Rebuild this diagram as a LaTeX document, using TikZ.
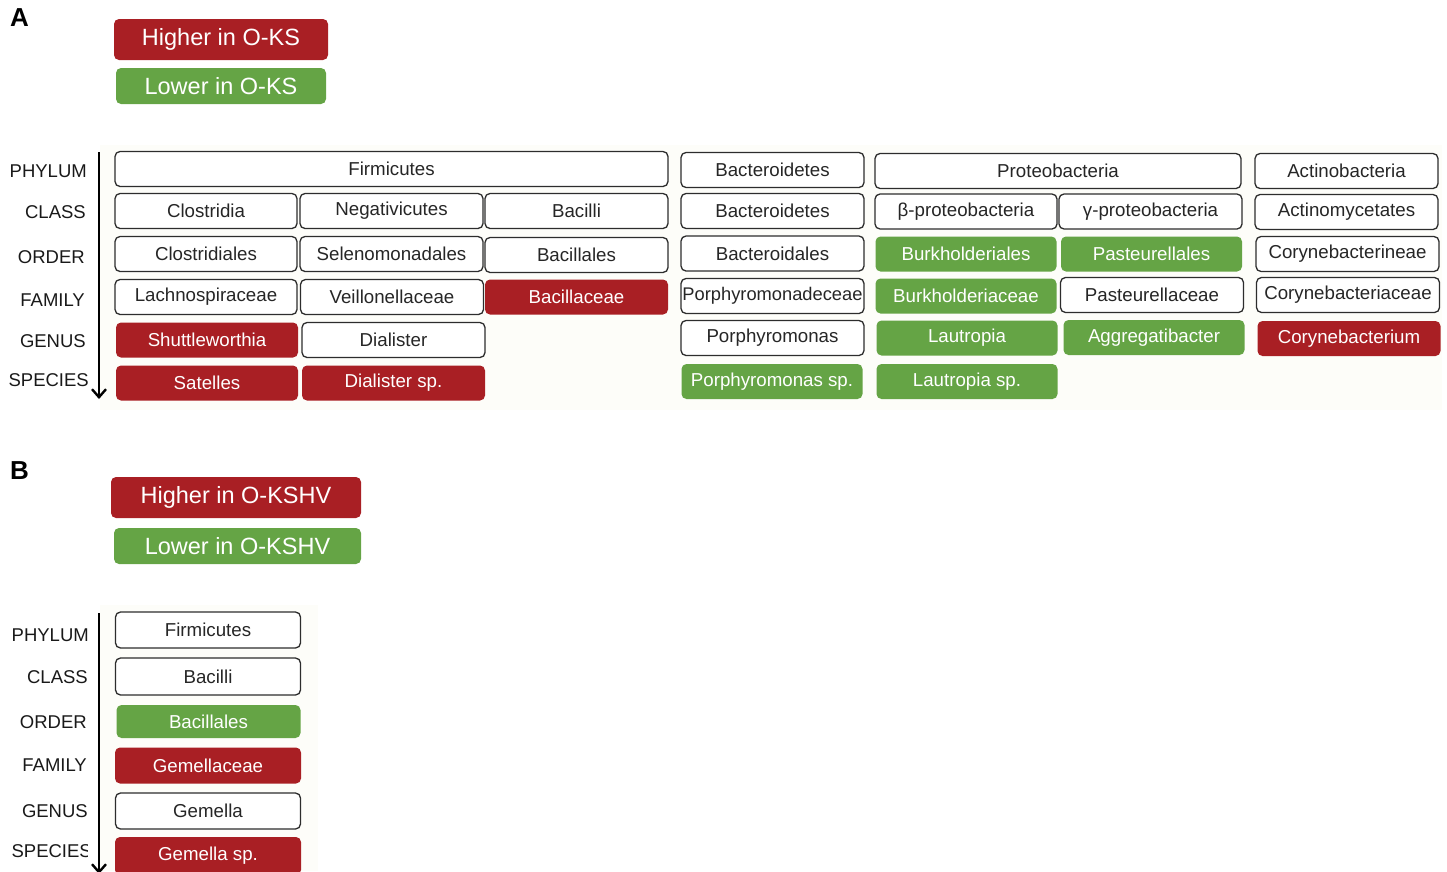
\documentclass[tikz,border=0pt]{standalone}
\usepackage{fontspec}
\setmainfont{Liberation Sans}
\usetikzlibrary{arrows.meta}
\definecolor{upred}{RGB}{169,31,36}
\definecolor{downgreen}{RGB}{101,164,69}
\definecolor{boxline}{RGB}{45,45,45}
\definecolor{panelbg}{RGB}{253,253,249}
\tikzset{taxon/.style={rectangle,rounded corners=5pt,minimum height=35pt,inner sep=0pt,font=\fontsize{18.7}{20}\selectfont}}

\begin{document}
\begin{tikzpicture}[x=1pt,y=-1pt,
    wbox/.style={taxon,draw=boxline,line width=1.3pt,fill=white,text=black!85},
    hbox/.style={taxon,fill=upred,text=white},
    lbox/.style={taxon,fill=downgreen,text=white},
    rank/.style={anchor=east,inner sep=0pt,text=black!90,font=\fontsize{18.5}{20}\selectfont},
    keybox/.style={rectangle,rounded corners=5pt,inner sep=0pt,text=white,font=\fontsize{23.5}{26}\selectfont},
    panel/.style={anchor=north west,inner sep=0pt,font=\fontsize{26}{28}\selectfont\bfseries},
    rankarrow/.style={line width=2.6pt,-{Straight Barb[length=8pt,width=14pt,line width=2.4pt]}}]
    \useasboundingbox (0,0) rectangle (1447,871);
    \fill[panelbg] (100,145) rectangle (1442,410);
    \fill[panelbg] (100,605) rectangle (318,871);

    \node[panel] (panelA) at (10,8) {A};
    \node[keybox,fill=upred,minimum width=214pt,minimum height=41pt] (keyHighA) at (221,39.5) {Higher in O-KS};
    \node[keybox,fill=downgreen,minimum width=210pt,minimum height=36pt] (keyLowA) at (221,86) {Lower in O-KS};

    \node[rank] (phylumA) at (87,171) {PHYLUM};
    \node[rank] (classA) at (86,212) {CLASS};
    \node[rank] (orderA) at (85,257) {ORDER};
    \node[rank] (familyA) at (85,300) {FAMILY};
    \node[rank] (genusA) at (86,341) {GENUS};
    \node[rank] (speciesA) at (89,380) {SPECIES};
    \coordinate (rankTopA) at (99,152);
    \coordinate (rankEndA) at (99,399);
    \draw[rankarrow] (rankTopA) -- (rankEndA);

    \node[wbox,minimum width=553pt] (firmicutes) at (391.5,169) {Firmicutes};
    \node[wbox,minimum width=182pt] (clostridia) at (206,211) {Clostridia};
    \node[wbox,minimum width=183pt] (negativicutes) at (391.5,211) {Negativicutes};
    \node[wbox,minimum width=183pt] (bacilli) at (576.5,211) {Bacilli};
    \node[wbox,minimum width=182pt] (clostridiales) at (206,254) {Clostridiales};
    \node[wbox,minimum width=183pt] (selenomonadales) at (391.5,254) {Selenomonadales};
    \node[wbox,minimum width=183pt] (bacillales) at (576.5,255) {Bacillales};
    \node[wbox,minimum width=182pt] (lachnospiraceae) at (206,297) {Lachnospiraceae};
    \node[wbox,minimum width=183pt] (veillonellaceae) at (392,297) {Veillonellaceae};
    \node[hbox,minimum width=183pt] (bacillaceae) at (576.5,297) {Bacillaceae};
    \node[hbox,minimum width=182pt] (shuttleworthia) at (207,340) {Shuttleworthia};
    \node[wbox,minimum width=183pt] (dialister) at (393.5,340) {Dialister};
    \node[hbox,minimum width=182pt] (satelles) at (207,383) {Satelles};
    \node[hbox,minimum width=183pt] (dialisterSp) at (393.5,383) {Dialister sp.};

    \node[wbox,minimum width=183pt] (bacteroidetesP) at (772.5,170) {Bacteroidetes};
    \node[wbox,minimum width=183pt] (bacteroidetesC) at (772.5,211) {Bacteroidetes};
    \node[wbox,minimum width=183pt] (bacteroidales) at (772.5,253.5) {Bacteroidales};
    \node[wbox,minimum width=183pt,font=\fontsize{18.3}{20}\selectfont] (porphyromonadaceae) at (772.5,296) {Porphyromonadeceae};
    \node[wbox,minimum width=183pt] (porphyromonas) at (772.5,338) {Porphyromonas};
    \node[lbox,minimum width=181pt] (porphyromonasSp) at (772,381.5) {Porphyromonas sp.};

    \node[wbox,minimum width=366pt] (proteobacteria) at (1058,171) {Proteobacteria};
    \node[wbox,minimum width=182pt] (betaproteo) at (966,211.5) {β-proteobacteria};
    \node[wbox,minimum width=183pt] (gammaproteo) at (1150.5,211.5) {γ-proteobacteria};
    \node[lbox,minimum width=181pt] (burkholderiales) at (966,254) {Burkholderiales};
    \node[lbox,minimum width=181pt] (pasteurellales) at (1151.5,254) {Pasteurellales};
    \node[lbox,minimum width=181pt] (burkholderiaceae) at (966,296) {Burkholderiaceae};
    \node[wbox,minimum width=183pt] (pasteurellaceae) at (1152,295) {Pasteurellaceae};
    \node[lbox,minimum width=181pt] (lautropia) at (967,338) {Lautropia};
    \node[lbox,minimum width=181pt] (aggregatibacter) at (1154,337.5) {Aggregatibacter};
    \node[lbox,minimum width=181pt] (lautropiaSp) at (967,381.5) {Lautropia sp.};

    \node[wbox,minimum width=183pt] (actinobacteria) at (1346.5,171) {Actinobacteria};
    \node[wbox,minimum width=183pt] (actinomycetates) at (1346.5,212) {Actinomycetates};
    \node[wbox,minimum width=183pt] (corynebacterineae) at (1347.5,254) {Corynebacterineae};
    \node[wbox,minimum width=183pt] (corynebacteriaceae) at (1348,295) {Corynebacteriaceae};
    \node[hbox,minimum width=183pt] (corynebacterium) at (1349,338.5) {Corynebacterium};

    \node[panel] (panelB) at (10,461) {B};
    \node[keybox,fill=upred,minimum width=250pt,minimum height=41pt] (keyHighB) at (236,497.5) {Higher in O-KSHV};
    \node[keybox,fill=downgreen,minimum width=247pt,minimum height=36pt] (keyLowB) at (237.5,546) {Lower in O-KSHV};

    \begin{scope}
        \clip (0,590) rectangle (87.5,871);
        \node[rank] (phylumB) at (89,635) {PHYLUM};
        \node[rank] (classB) at (88,677) {CLASS};
        \node[rank] (orderB) at (87,722) {ORDER};
        \node[rank] (familyB) at (87,765) {FAMILY};
        \node[rank] (genusB) at (88,811) {GENUS};
        \node[rank] (speciesB) at (92,851) {SPECIES};
    \end{scope}
    \coordinate (rankTopB) at (99,613);
    \coordinate (rankEndB) at (99,874);
    \draw[rankarrow] (rankTopB) -- (rankEndB);

    \node[wbox,minimum width=185pt,minimum height=36pt] (firmicutesB) at (208,630) {Firmicutes};
    \node[wbox,minimum width=185pt,minimum height=37pt] (bacilliB) at (208,676.5) {Bacilli};
    \node[lbox,minimum width=184pt,minimum height=33pt] (bacillalesB) at (208.5,721.5) {Bacillales};
    \node[hbox,minimum width=186pt,minimum height=36pt] (gemellaceae) at (208,765.5) {Gemellaceae};
    \node[wbox,minimum width=185pt,minimum height=36pt] (gemella) at (208,811) {Gemella};
    \node[hbox,minimum width=186pt,minimum height=38pt] (gemellaSp) at (208,856) {Gemella sp.};
\end{tikzpicture}
\end{document}
